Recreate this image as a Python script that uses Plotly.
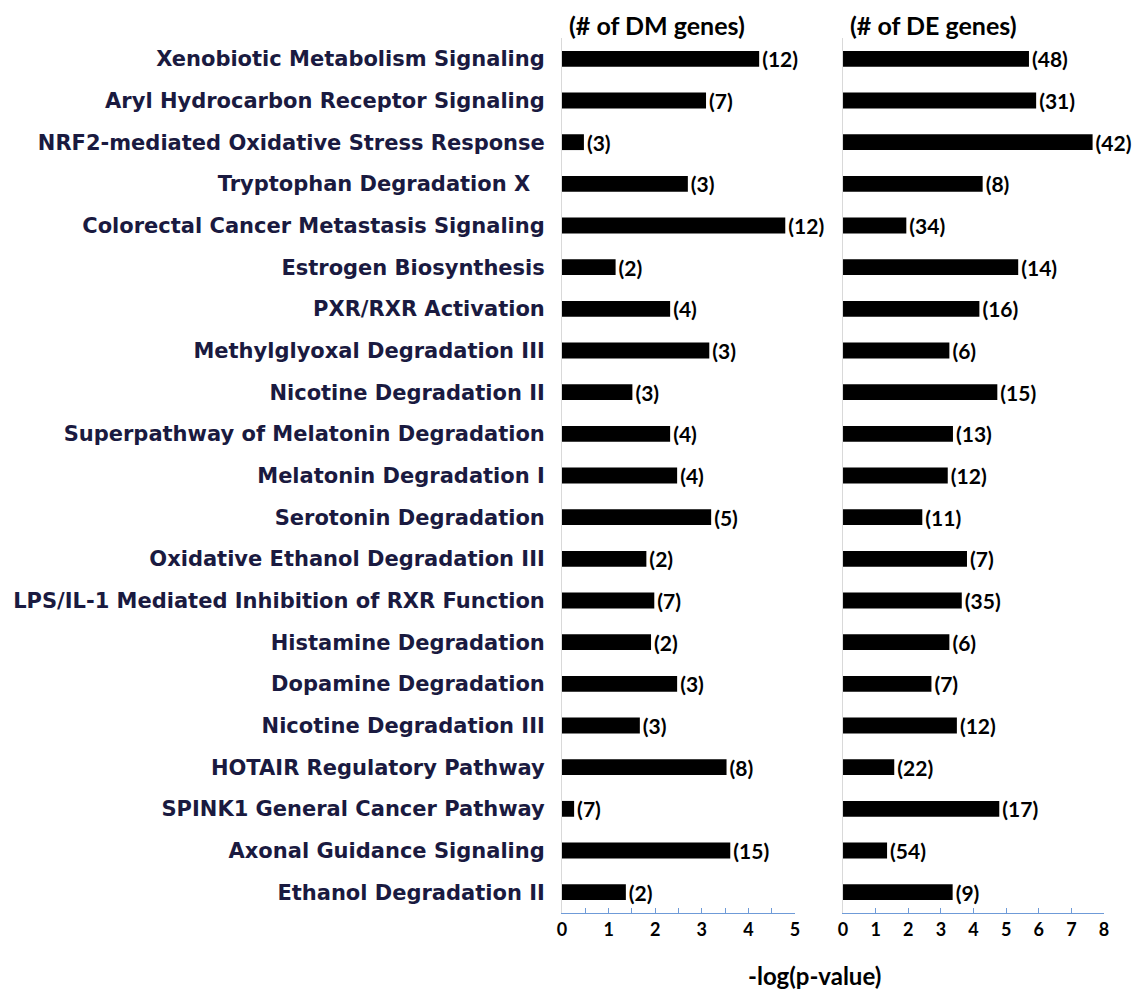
import plotly.graph_objects as go

pathways = [
    "Xenobiotic Metabolism Signaling",
    "Aryl Hydrocarbon Receptor Signaling",
    "NRF2-mediated Oxidative Stress Response",
    "Tryptophan Degradation X\u00a0\u00a0",
    "Colorectal Cancer Metastasis Signaling",
    "Estrogen Biosynthesis",
    "PXR/RXR Activation",
    "Methylglyoxal Degradation III",
    "Nicotine Degradation II",
    "Superpathway of Melatonin Degradation",
    "Melatonin Degradation I",
    "Serotonin Degradation",
    "Oxidative Ethanol Degradation III",
    "LPS/IL-1 Mediated Inhibition of RXR Function",
    "Histamine Degradation",
    "Dopamine Degradation",
    "Nicotine Degradation III",
    "HOTAIR Regulatory Pathway",
    "SPINK1 General Cancer Pathway",
    "Axonal Guidance Signaling",
    "Ethanol Degradation II",
]

dm_logp = [4.23, 3.09, 0.47, 2.70, 4.79, 1.15, 2.32, 3.16, 1.51, 2.32, 2.47,
           3.20, 1.81, 1.98, 1.91, 2.47, 1.67, 3.53, 0.26, 3.61, 1.37]
dm_counts = [12, 7, 3, 3, 12, 2, 4, 3, 3, 4, 4, 5, 2, 7, 2, 3, 3, 8, 7, 15, 2]

de_logp = [5.70, 5.92, 7.65, 4.28, 1.94, 5.37, 4.18, 3.26, 4.73, 3.37, 3.21,
           2.43, 3.80, 3.64, 3.26, 2.71, 3.49, 1.57, 4.79, 1.35, 3.36]
de_counts = [48, 31, 42, 8, 34, 14, 16, 6, 15, 13, 12, 11, 7, 35, 6, 7, 12, 22, 17, 54, 9]

left_ticks = [0, 1, 2, 3, 4, 5]
right_ticks = [0, 1, 2, 3, 4, 5, 6, 7, 8]

FONT = "Lato"
CAT_FONT = "DejaVu Sans"
LABEL_COLOR = "#1a1a40"
AXIS_BLUE = "#6f9bd8"

fig = go.Figure()

bar_text_font = dict(family=FONT, size=21, color="black", weight="bold")

fig.add_trace(go.Bar(
    y=pathways, x=dm_logp, orientation="h",
    marker=dict(color="black", line=dict(width=0)),
    text=[f"({c})" for c in dm_counts], textposition="outside",
    constraintext="none", textfont=bar_text_font,
    cliponaxis=False, xaxis="x", yaxis="y", showlegend=False,
))
fig.add_trace(go.Bar(
    y=pathways, x=de_logp, orientation="h",
    marker=dict(color="black", line=dict(width=0)),
    text=[f"({c})" for c in de_counts], textposition="outside",
    constraintext="none", textfont=bar_text_font,
    cliponaxis=False, xaxis="x2", yaxis="y2", showlegend=False,
))

axis_common = dict(
    showgrid=False, zeroline=False, showline=True, linecolor=AXIS_BLUE, linewidth=1,
    ticks="inside", ticklen=5, tickcolor=AXIS_BLUE, automargin=False,
    tickfont=dict(family=FONT, size=18, color="black", weight="bold"),
)

fig.update_layout(
    width=1147, height=994,
    margin=dict(l=554, r=51, t=30, b=89),
    paper_bgcolor="white", plot_bgcolor="white",
    bargap=0.62,
    xaxis=dict(domain=[0, 0.43], range=[0, 5], tickvals=left_ticks,
               minor=dict(dtick=0.5, ticks="inside", ticklen=5, tickcolor=AXIS_BLUE),
               anchor="y", **axis_common),
    xaxis2=dict(domain=[0.5185, 1], range=[0, 8], tickvals=right_ticks,
                anchor="y2", **axis_common),
    yaxis=dict(anchor="x", autorange="reversed", showgrid=False, zeroline=False,
               showline=True, linecolor="#d9d9d9", linewidth=1, ticks="",
               ticklabelstandoff=12, automargin=False,
               tickfont=dict(family=CAT_FONT, size=21, color=LABEL_COLOR, weight="bold")),
    yaxis2=dict(anchor="x2", matches="y", autorange="reversed", showgrid=False,
                zeroline=False, showline=True, linecolor="#d9d9d9", linewidth=1,
                showticklabels=False, ticks="", automargin=False),
    annotations=[
        dict(text="(# of DM genes)", x=0.009, y=1.015, xref="paper", yref="paper",
             xanchor="left", yanchor="middle", showarrow=False,
             font=dict(family=FONT, size=25, color="black", weight="bold")),
        dict(text="(# of DE genes)", x=0.528, y=1.015, xref="paper", yref="paper",
             xanchor="left", yanchor="middle", showarrow=False,
             font=dict(family=FONT, size=25, color="black", weight="bold")),
        dict(text="-log(p-value)", x=0.465, y=-0.071, xref="paper", yref="paper",
             xanchor="center", yanchor="middle", showarrow=False,
             font=dict(family=FONT, size=24, color="black", weight="bold")),
    ],
)

fig.write_html("out.html")
